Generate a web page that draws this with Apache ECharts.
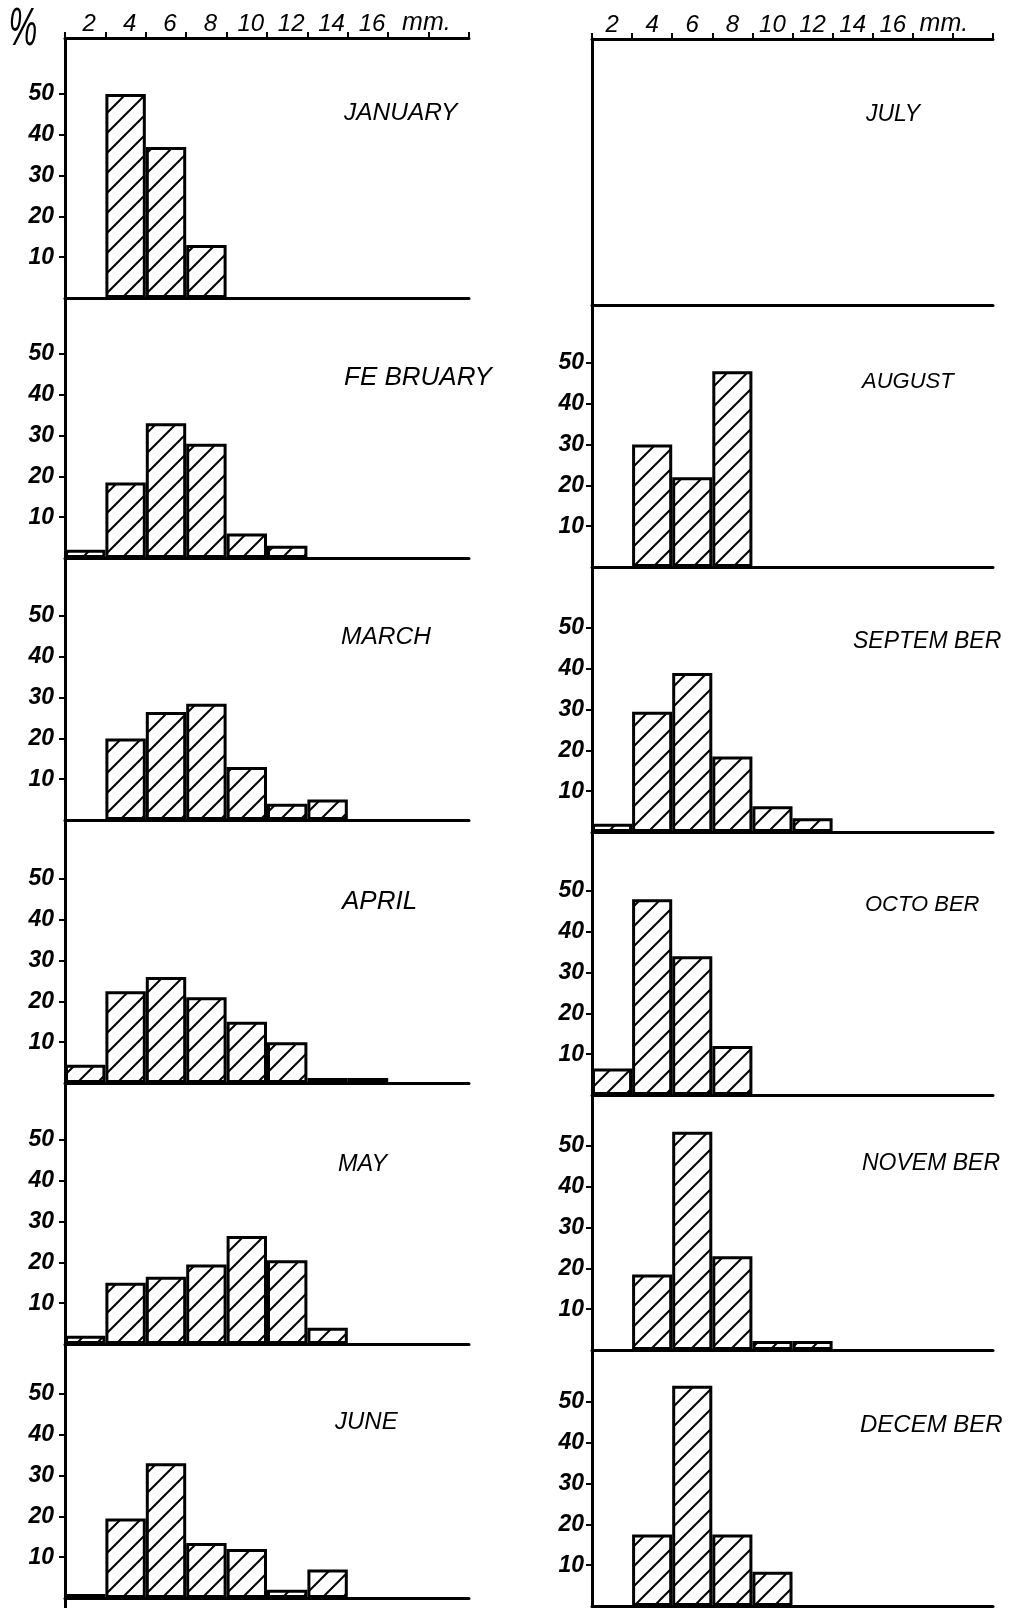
<!DOCTYPE html>
<html>
<head>
<meta charset="utf-8">
<script src="https://cdn.jsdelivr.net/npm/echarts@6/dist/echarts.min.js"></script>
<style>
html,body{margin:0;padding:0;background:#fff;}
#chart{width:1015px;height:1608px;}
</style>
</head>
<body>
<div id="chart"></div>
<script>
// ---------- DATA ----------
// size classes (mm), 2 mm wide bins
const sizeClasses = ['0-2','2-4','4-6','6-8','8-10','10-12','12-14','14-16','16-18','18-20'];
// labels printed along the top axis
const topTickLabels = ['2','4','6','8','10','12','14','16','mm.',''];
// percent ticks
const percentTicks = [10,20,30,40,50];
const monthNames = ['JANUARY','FE BRUARY','MARCH','APRIL','MAY','JUNE',
                    'JULY','AUGUST','SEPTEM BER','OCTO BER','NOVEM BER','DECEM BER'];
// percentage of each size class per month (null = no bar)
const january   = [null, 50,   37,   13,   null, null, null, null, null, null];
const february  = [2,    18.5, 33,   28,   6,    3,    null, null, null, null];
const march     = [null, 20,   26.5, 28.5, 13,   4,    5,    null, null, null];
const april     = [4.5,  22.5, 26,   21,   15,   10,   1.2,  1.2,  null, null];
const may       = [2,    15,   16.5, 19.5, 26.5, 20.5, 4,    null, null, null];
const june      = [1,    19.5, 33,   13.5, 12,   2,    7,    null, null, null];
const july      = [null, null, null, null, null, null, null, null, null, null];
const august    = [null, 30,   22,   48,   null, null, null, null, null, null];
const september = [2,    29.5, 39,   18.5, 6.3,  3.4,  null, null, null, null];
const october   = [6.5,  48,   34,   12,   null, null, null, null, null, null];
const november  = [null, 18.5, 53.5, 23,   2.2,  2.2,  null, null, null, null];
const december  = [null, 17.5, 54,   17.5, 8.4,  null, null, null, null, null];
const monthData = [january,february,march,april,may,june,july,august,september,october,november,december];

// ---------- LAYOUT / STYLE ----------
const columns = [
  {left: 65,  width: 404, top: 38, baselines: [298, 558, 820, 1083, 1344, 1598], labelPad: 8, mmPad: 36, yMargin: 11},
  {left: 592, width: 401, top: 39, baselines: [305, 567, 832, 1095, 1350, 1606], labelPad: 0, mmPad: 22, yMargin: 8}
];
const pxPerPercent = 4.08;
const pageBottom = 1608;
const monthLabelPos = [
  [344,113],[344,378],[341,637],[342,902],[338,1164],[335,1422],
  [866,115],[862,382],[853,642],[865,905],[862,1164],[860,1425]
];
const monthLabelSize = [24.5, 26, 24.5, 26, 23.5, 24, 23, 22, 23, 22, 23, 24];
const emptyPanels = [6]; // July shows no percent scale
const fontFam = '"Liberation Sans", Arial, sans-serif';

// hatch pattern
function makeHatch(T){
  const c = document.createElement('canvas');
  c.width = T; c.height = T;
  const ctx = c.getContext('2d');
  ctx.fillStyle = '#fff'; ctx.fillRect(0,0,T,T);
  ctx.strokeStyle = '#000'; ctx.lineWidth = 2; ctx.lineCap = 'square';
  ctx.beginPath();
  ctx.moveTo(0, T); ctx.lineTo(T, 0);
  ctx.moveTo(-T/4, T/4); ctx.lineTo(T/4, -T/4);
  ctx.moveTo(3*T/4, 5*T/4); ctx.lineTo(5*T/4, 3*T/4);
  ctx.stroke();
  return c;
}
const hatch = {image: makeHatch(20), repeat: 'repeat'};

const grids = [], xAxes = [], yAxes = [], series = [], graphics = [];
columns.forEach((col, ci) => {
  col.baselines.forEach((base, j) => {
    const gi = grids.length;
    const mi = ci * 6 + j;
    const top = j === 0 ? col.top : col.baselines[j-1];
    const bottom = j === col.baselines.length - 1 ? pageBottom : base;
    grids.push({left: col.left, top: top, width: col.width, height: bottom - top});
    const xi = xAxes.length;
    xAxes.push({
      gridIndex: gi, type: 'category', data: sizeClasses, position: 'bottom',
      boundaryGap: true,
      axisLine: {show: true, onZero: true, lineStyle: {color: '#000', width: 3}},
      axisTick: {show: false}, axisLabel: {show: false}, splitLine: {show: false}
    });
    if (j === 0) {
      xAxes.push({
        gridIndex: gi, type: 'category', data: sizeClasses, position: 'top',
        boundaryGap: true,
        axisLine: {show: true, onZero: false, lineStyle: {color: '#000', width: 3}},
        axisTick: {show: true, interval: 0, length: 6, lineStyle: {color: '#000', width: 2}},
        axisLabel: {
          show: true, interval: 0, margin: 2,
          formatter: (v, idx) => topTickLabels[idx] === 'mm.' ? '{m|mm.}' : (topTickLabels[idx] ? '{d|' + topTickLabels[idx] + '}' : ''),
          color: '#000', fontSize: 24, fontStyle: 'italic', fontFamily: fontFam,
          rich: {
            d: {fontSize: 24, fontStyle: 'italic', fontFamily: fontFam, color: '#000', padding: [0,0,0,col.labelPad]},
            m: {fontSize: 25, fontStyle: 'italic', fontFamily: fontFam, color: '#000', padding: [0,0,0,col.mmPad]}
          }
        },
        splitLine: {show: false}
      });
    }
    const isEmpty = emptyPanels.indexOf(mi) >= 0;
    yAxes.push({
      gridIndex: gi, type: 'value',
      min: -(bottom - base) / pxPerPercent,
      max: (base - top) / pxPerPercent,
      axisLine: {show: true, onZero: false, lineStyle: {color: '#000', width: 3}},
      axisTick: {show: !isEmpty, customValues: percentTicks, length: 6, lineStyle: {color: '#000', width: 2}},
      axisLabel: {show: !isEmpty, customValues: percentTicks, margin: col.yMargin,
        color: '#000', fontSize: 23, fontStyle: 'italic', fontWeight: 'bold', fontFamily: fontFam},
      splitLine: {show: false}
    });
    series.push({
      type: 'bar', name: monthNames[mi], xAxisIndex: xi, yAxisIndex: gi,
      data: monthData[mi], barCategoryGap: '0%', silent: true,
      itemStyle: {color: hatch, borderColor: '#000', borderWidth: 3}
    });
    graphics.push({
      type: 'text', x: monthLabelPos[mi][0], y: monthLabelPos[mi][1], silent: true,
      style: {text: monthNames[mi], fontSize: monthLabelSize[mi], fontStyle: 'italic', fontFamily: fontFam,
        fill: '#000', align: 'left', verticalAlign: 'middle'}
    });
  });
});
graphics.push({
  type: 'text', x: 23, y: 30, scaleX: 0.6, silent: true,
  style: {text: '%', fontSize: 54, fontStyle: 'italic', fontFamily: fontFam, fill: '#000',
    align: 'center', verticalAlign: 'middle'}
});

const chart = echarts.init(document.getElementById('chart'), null, {renderer: 'canvas'});
chart.setOption({
  animation: false,
  backgroundColor: '#fff',
  grid: grids, xAxis: xAxes, yAxis: yAxes, series: series, graphic: graphics
});
</script>
</body>
</html>
